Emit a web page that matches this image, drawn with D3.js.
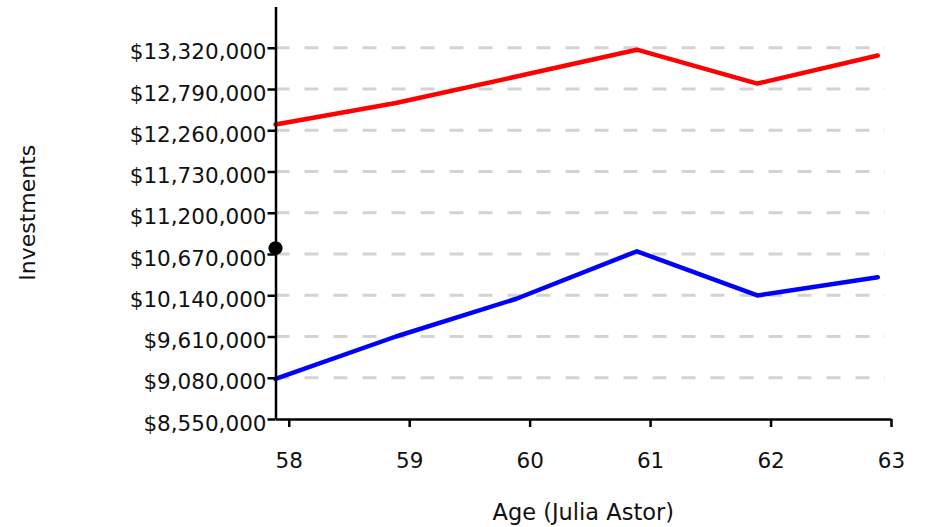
<!DOCTYPE html>
<html>
<head>
<meta charset="utf-8">
<script src="https://cdn.jsdelivr.net/npm/d3@7"></script>
<style>
  html, body { margin: 0; padding: 0; background: #fff; }
  svg { display: block; }
  text { font-family: Verdana, "DejaVu Sans", sans-serif; fill: #111; }
</style>
</head>
<body>
<svg id="chart" width="926" height="527"></svg>
<script>
// Ages at which each reading was taken
const ages = [57.89, 58.89, 59.89, 60.89, 61.89, 62.89];
// Two investment series (USD)
const upperSeries = [12335000, 12610000, 12950000, 13295000, 12860000, 13220000];
const lowerSeries = [9065000, 9610000, 10095000, 10705000, 10137000, 10372000];
// Single highlighted point
const markerAge = [57.89];
const markerValue = [10745000];
// Axis ticks
const xTicks = [58, 59, 60, 61, 62, 63];
const yTicks = [8550000, 9080000, 9610000, 10140000, 10670000, 11200000, 11730000, 12260000, 12790000, 13320000];
const xDomain = [57.89, 63];
const yDomain = [8550000, 13850000];

const margin = { left: 275.5, top: 6.5, right: 35, bottom: 108 };
const width = 926 - margin.left - margin.right;
const height = 527 - margin.top - margin.bottom;

const svg = d3.select("#chart");
const g = svg.append("g").attr("transform", `translate(${margin.left},${margin.top})`);

const x = d3.scaleLinear().domain(xDomain).range([0, width]);
const y = d3.scaleLinear().domain(yDomain).range([height, 0]);

const money = v => "$" + d3.format(",")(v);

// Dashed horizontal grid
g.append("g")
  .selectAll("line")
  .data(yTicks.slice(1))
  .join("line")
  .attr("x1", 0)
  .attr("x2", width - 6)
  .attr("y1", d => y(d))
  .attr("y2", d => y(d))
  .attr("stroke", "#d3d3d3")
  .attr("stroke-width", 3)
  .attr("stroke-dasharray", "14,15");

// Lines
const line = d3.line().x((d, i) => x(ages[i])).y(d => y(d));
g.append("path")
  .datum(upperSeries)
  .attr("d", line)
  .attr("fill", "none")
  .attr("stroke", "#ff0000")
  .attr("stroke-width", 4.5)
  .attr("stroke-linejoin", "round")
  .attr("stroke-linecap", "round");
g.append("path")
  .datum(lowerSeries)
  .attr("d", line)
  .attr("fill", "none")
  .attr("stroke", "#0000ff")
  .attr("stroke-width", 4.5)
  .attr("stroke-linejoin", "round")
  .attr("stroke-linecap", "round");

// Axes
const xAxis = g.append("g")
  .attr("transform", `translate(0,${height})`)
  .call(d3.axisBottom(x).tickValues(xTicks).tickSize(8).tickSizeOuter(0).tickPadding(26).tickFormat(d3.format("d")));
const yAxis = g.append("g")
  .call(d3.axisLeft(y).tickValues(yTicks).tickSize(8).tickSizeOuter(0).tickPadding(1).tickFormat(money));

[xAxis, yAxis].forEach(a => {
  a.select(".domain").attr("stroke", "#000").attr("stroke-width", 2.5);
  a.selectAll(".tick line").attr("stroke", "#000").attr("stroke-width", 2.5);
  a.selectAll(".tick text").attr("font-size", 21.5).attr("font-family", 'Verdana, "DejaVu Sans", sans-serif').attr("fill", "#111");
});
yAxis.selectAll(".tick text").attr("dy", "0.52em");

// Marker point
g.append("g")
  .selectAll("circle")
  .data(markerValue)
  .join("circle")
  .attr("cx", (d, i) => x(markerAge[i]))
  .attr("cy", d => y(d))
  .attr("r", 7)
  .attr("fill", "#000");

// Axis titles
svg.append("text")
  .attr("x", margin.left + width / 2)
  .attr("y", 520)
  .attr("text-anchor", "middle")
  .attr("font-size", 22.5)
  .text("Age (Julia Astor)");
svg.append("text")
  .attr("transform", `translate(35,${margin.top + height / 2}) rotate(-90)`)
  .attr("text-anchor", "middle")
  .attr("font-size", 22)
  .text("Investments");
</script>
</body>
</html>
